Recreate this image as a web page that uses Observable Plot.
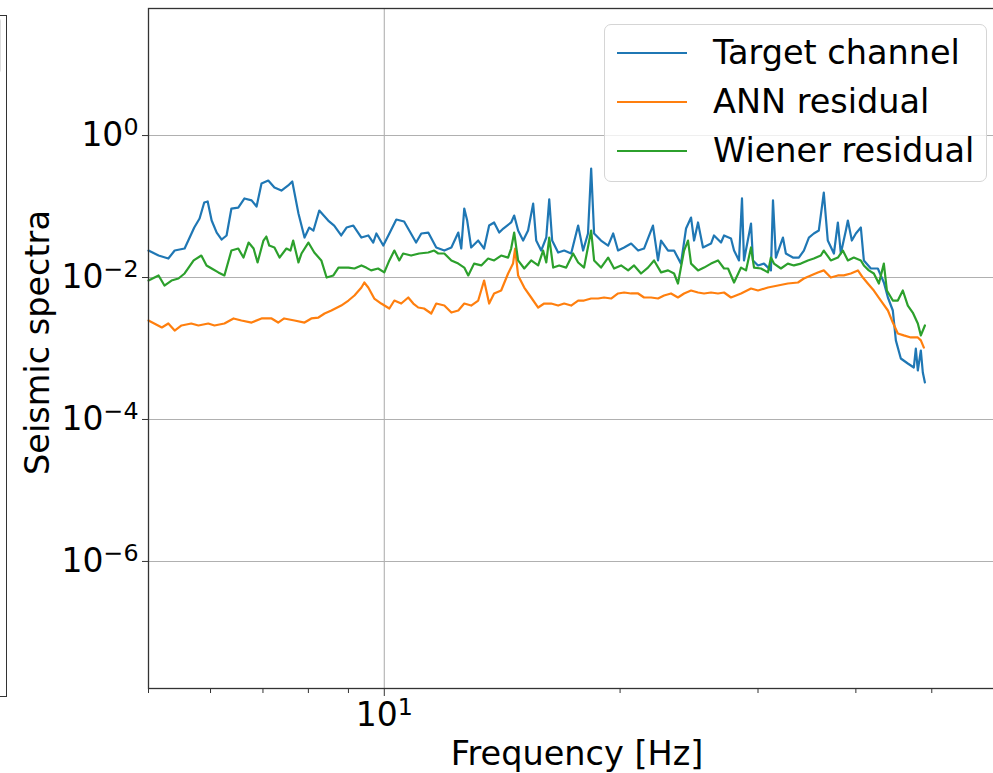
<!DOCTYPE html>
<html>
<head>
<meta charset="utf-8">
<script src="https://cdn.jsdelivr.net/npm/d3@7"></script>
<script src="https://cdn.jsdelivr.net/npm/@observablehq/plot@0.6"></script>
<style>
  html, body { margin: 0; padding: 0; background: #fff; overflow: hidden; }
  #wrap { position: relative; width: 993px; height: 773px; font-family: "DejaVu Sans", sans-serif; }
  #legend { position: absolute; left: 604px; top: 24px; width: 383px; height: 158px; box-sizing: border-box;
            border: 1.3px solid #d5d5d5; border-radius: 7px; background: rgba(255,255,255,0.8); }
  .row { position: absolute; left: 12px; height: 40px; display: flex; align-items: center; }
  .sw { width: 70px; height: 0; border-top: 2.4px solid; margin-right: 26px; }
  .lab { font-size: 33.5px; color: #000; white-space: nowrap; line-height: 40px; }
  #neighbor { position: absolute; left: -4px; top: 15px; width: 11px; height: 682px; box-sizing: border-box;
              border: 1.3px solid #333; }
  #neighborLeg { position: absolute; left: -6px; top: 18px; width: 7px; height: 55px; box-sizing: border-box;
              border: 1px solid #ddd; border-radius: 3px; }
</style>
</head>
<body>
<div id="wrap">
  <div id="neighbor"></div>
  <div id="neighborLeg"></div>
  <div id="chart"></div>
  <div id="legend"></div>
</div>
<script>
// ---- data (frequency in Hz, spectral value) ----
const seriesNames = ["Target channel", "ANN residual", "Wiener residual"];
const seriesColors = ["#1f77b4", "#ff7f0e", "#2ca02c"];

const targetFreq = [5.00,5.15,5.30,5.40,5.56,5.72,5.81,5.89,5.95,6.02,6.11,6.20,6.29,6.38,6.51,6.63,6.77,6.87,6.97,7.11,7.24,7.39,7.54,7.63,7.77,7.91,8.02,8.12,8.26,8.48,8.63,8.81,8.95,9.13,9.35,9.54,9.68,9.77,9.97,10.15,10.36,10.60,10.98,11.15,11.38,11.65,11.93,12.18,12.43,12.54,12.65,12.76,12.91,13.18,13.41,13.61,13.81,14.02,14.19,14.52,14.65,14.82,15.04,15.26,15.49,15.63,15.86,16.10,16.24,16.38,16.67,16.97,17.32,17.68,17.94,18.20,18.37,18.53,18.91,19.31,19.60,19.88,20.24,20.66,21.09,21.46,22.03,22.36,22.56,23.03,23.44,23.92,24.28,24.64,24.86,25.15,25.52,26.13,26.36,26.91,27.15,27.71,27.96,28.37,28.62,28.79,29.39,29.56,30.00,30.53,31.16,31.35,31.62,32.28,32.56,33.24,33.83,34.33,34.84,35.35,35.87,36.40,36.83,37.50,37.94,38.27,38.84,39.07,39.53,40.00,40.59,40.95,41.80,42.67,43.43,43.95,44.59,44.99,45.65,46.60,47.43,47.71,47.99,48.42,48.70,49.00];
const targetVal = [0.0240,0.0204,0.0185,0.0240,0.0256,0.0506,0.0678,0.114,0.118,0.0635,0.0430,0.0343,0.0391,0.0937,0.0968,0.130,0.122,0.100,0.211,0.232,0.185,0.168,0.198,0.225,0.0797,0.0366,0.0506,0.0459,0.0879,0.0635,0.0540,0.0391,0.0506,0.0540,0.0366,0.0391,0.0311,0.0417,0.0282,0.0417,0.0656,0.0615,0.0311,0.0417,0.0430,0.0265,0.0240,0.0265,0.0430,0.0256,0.0937,0.0635,0.0265,0.0332,0.0256,0.0540,0.0596,0.0430,0.0490,0.0596,0.0747,0.0459,0.0332,0.0459,0.110,0.0332,0.0240,0.0366,0.126,0.0332,0.0225,0.0240,0.0218,0.0540,0.0240,0.0417,0.343,0.0417,0.0332,0.0282,0.0417,0.0240,0.0265,0.0301,0.0240,0.0256,0.0540,0.0174,0.0332,0.0240,0.0240,0.0157,0.0490,0.0700,0.0332,0.0596,0.0265,0.0301,0.0391,0.0311,0.0391,0.0354,0.0240,0.0174,0.130,0.0174,0.0577,0.0174,0.0148,0.0157,0.0126,0.122,0.0191,0.0366,0.0218,0.0191,0.0191,0.0240,0.0366,0.0417,0.0459,0.157,0.0332,0.0218,0.0596,0.0218,0.0459,0.0635,0.0332,0.0417,0.0506,0.0174,0.0134,0.0134,0.00851,0.00523,0.00343,0.00130,0.000723,0.000615,0.000540,0.00100,0.000490,0.000937,0.000459,0.000332];

const annFreq = [5.00,5.20,5.30,5.40,5.51,5.67,5.79,5.96,6.07,6.25,6.42,6.57,6.77,6.97,7.18,7.32,7.45,7.68,7.91,8.07,8.24,8.39,8.56,8.81,9.00,9.16,9.35,9.43,9.54,9.71,9.91,10.15,10.30,10.51,10.73,10.89,11.05,11.24,11.48,11.65,11.93,12.18,12.43,12.65,12.91,13.18,13.41,13.61,13.81,14.10,14.39,14.60,14.69,14.82,15.09,15.40,15.72,16.00,16.33,16.67,16.97,17.32,17.68,17.99,18.37,18.75,19.08,19.48,19.88,20.24,20.66,21.09,21.46,21.91,22.36,22.76,23.23,23.71,24.14,24.64,25.15,25.60,26.13,26.67,27.15,27.71,28.54,29.39,30.00,30.89,31.81,32.75,33.74,34.33,35.04,35.77,36.40,37.16,37.94,38.61,39.41,40.24,40.83,41.43,42.17,43.05,43.95,44.59,45.25,46.05,47.01,47.99,48.42,48.85];
const annVal = [0.00248,0.00198,0.00225,0.00179,0.00211,0.00225,0.00211,0.00225,0.00211,0.00225,0.00265,0.00248,0.00232,0.00265,0.00265,0.00232,0.00265,0.00248,0.00232,0.00265,0.00273,0.00311,0.00343,0.00403,0.00474,0.00558,0.00723,0.00851,0.00723,0.00506,0.00430,0.00366,0.00474,0.00430,0.00523,0.00430,0.00378,0.00366,0.00311,0.00430,0.00403,0.00321,0.00343,0.00430,0.00403,0.00474,0.00907,0.00430,0.00596,0.00656,0.0114,0.0157,0.0256,0.0107,0.00723,0.00523,0.00378,0.00430,0.00430,0.00403,0.00430,0.00403,0.00474,0.00474,0.00506,0.00506,0.00523,0.00506,0.00596,0.00615,0.00596,0.00596,0.00523,0.00523,0.00506,0.00558,0.00596,0.00523,0.00596,0.00656,0.00615,0.00596,0.00615,0.00596,0.00615,0.00523,0.00596,0.00700,0.00656,0.00723,0.00771,0.00823,0.00851,0.00968,0.0107,0.0118,0.0126,0.0100,0.0107,0.0107,0.0114,0.0126,0.0100,0.00823,0.00656,0.00474,0.00343,0.00232,0.00163,0.00153,0.00143,0.00143,0.00130,0.00103];

const wienerFreq = [5.00,5.15,5.24,5.35,5.46,5.56,5.71,5.84,5.93,6.02,6.14,6.25,6.38,6.51,6.61,6.71,6.81,6.89,7.01,7.07,7.13,7.24,7.35,7.50,7.59,7.65,7.77,7.84,8.00,8.14,8.31,8.44,8.61,8.74,9.00,9.16,9.35,9.48,9.62,9.82,10.00,10.15,10.30,10.45,10.57,10.82,11.08,11.38,11.58,11.72,11.93,12.18,12.43,12.65,12.80,13.02,13.30,13.57,13.81,14.10,14.39,14.52,14.65,14.82,15.09,15.40,15.72,15.95,16.10,16.24,16.43,16.72,17.07,17.42,17.68,17.99,18.37,18.53,18.91,19.31,19.65,20.06,20.48,20.84,21.27,21.71,22.10,22.56,23.03,23.44,23.71,24.14,24.42,24.64,25.15,25.60,26.13,26.67,27.15,27.47,27.96,28.54,28.96,29.39,29.65,30.27,30.89,31.16,31.44,32.09,32.75,33.34,34.03,34.74,35.35,36.08,36.40,37.16,37.94,38.50,39.07,39.76,40.59,40.95,41.55,42.17,42.80,43.43,43.82,44.59,45.25,45.92,46.60,47.28,47.99,48.42,49.00];
const wienerVal = [0.00907,0.0107,0.00771,0.00907,0.00968,0.0114,0.0174,0.0204,0.0148,0.0134,0.0118,0.0107,0.0240,0.0256,0.0191,0.0311,0.0256,0.0163,0.0332,0.0378,0.0282,0.0265,0.0191,0.0256,0.0240,0.0332,0.0163,0.0218,0.0311,0.0225,0.0174,0.0100,0.0107,0.0138,0.0138,0.0134,0.0148,0.0138,0.0126,0.0134,0.0118,0.0174,0.0240,0.0174,0.0218,0.0204,0.0218,0.0225,0.0240,0.0218,0.0218,0.0174,0.0157,0.0138,0.0107,0.0157,0.0148,0.0185,0.0174,0.0204,0.0191,0.0256,0.0430,0.0174,0.0134,0.0174,0.0148,0.0240,0.0163,0.0366,0.0138,0.0148,0.0138,0.0218,0.0163,0.0138,0.0459,0.0174,0.0138,0.0191,0.0134,0.0148,0.0126,0.0148,0.0114,0.0138,0.0174,0.0118,0.0126,0.0114,0.00823,0.0240,0.0332,0.0157,0.0126,0.0138,0.0157,0.0174,0.0134,0.0134,0.00851,0.0138,0.0126,0.0265,0.0138,0.0134,0.0118,0.0191,0.0157,0.0134,0.0157,0.0148,0.0157,0.0174,0.0185,0.0204,0.0240,0.0174,0.0191,0.0240,0.0174,0.0191,0.0174,0.0148,0.0126,0.0114,0.00823,0.0157,0.00656,0.00474,0.00474,0.00656,0.00403,0.00321,0.00225,0.00153,0.00211];

const yTicks = [1e0, 1e-2, 1e-4, 1e-6];
const xMajorTicks = [10];
const xMinorTicks = [5, 6, 7, 8, 9, 20, 30, 40, 50, 60];
const xLabel = "Frequency [Hz]";
const yLabel = "Seismic spectra";

// ---- build table ----
const rows = [];
[[targetFreq, targetVal], [annFreq, annVal], [wienerFreq, wienerVal]].forEach(([f, v], i) => {
  f.forEach((fr, j) => rows.push({series: seriesNames[i], f: fr, v: v[j]}));
});

const supFmt = d => "10^" + String(Math.round(Math.log10(d))).replace("-", "\u2212");

const chart = Plot.plot({
  width: 993,
  height: 773,
  marginLeft: 148,
  marginRight: -12,
  marginTop: 8,
  marginBottom: 85,
  style: {fontFamily: "DejaVu Sans", fontSize: "33px", color: "#000", background: "transparent", overflow: "hidden"},
  x: {type: "log", domain: [5, 62.1]},
  y: {type: "log", domain: [Math.pow(10, -7.79), Math.pow(10, 1.79)]},
  color: {domain: seriesNames, range: seriesColors},
  marks: [
    Plot.gridY(yTicks, {stroke: "#b0b0b0", strokeOpacity: 1, strokeWidth: 1.1}),
    Plot.gridX(xMajorTicks, {stroke: "#b0b0b0", strokeOpacity: 1, strokeWidth: 1.1}),
    Plot.line(rows, {x: "f", y: "v", z: "series", stroke: "series", strokeWidth: 2.2, strokeLinejoin: "round"}),
    Plot.frame({stroke: "#333", strokeWidth: 1.3}),
    Plot.axisY(yTicks, {anchor: "left", tickSize: 6, tickPadding: 4, tickFormat: supFmt, label: null, stroke: "#333"}),
    Plot.axisX(xMajorTicks, {anchor: "bottom", tickSize: 8, tickPadding: 6, tickFormat: supFmt, label: null, stroke: "#333"}),
    Plot.axisX(xMinorTicks, {anchor: "bottom", tickSize: 5, tickFormat: () => "", label: null, stroke: "#333"}),
    Plot.text([xLabel], {frameAnchor: "bottom", textAnchor: "middle", text: d => d, dy: 66, lineAnchor: "middle", fontSize: 33.5}),
    Plot.text([yLabel], {frameAnchor: "left", textAnchor: "middle", text: d => d, rotate: -90, dx: -110, dy: -6, lineAnchor: "middle", fontSize: 33.5})
  ]
});
document.getElementById("chart").appendChild(chart);

// superscripts for "10^n" tick labels
d3.select(chart).selectAll("text").each(function() {
  const t = this.textContent;
  if (t.startsWith("10^")) {
    const exp = t.slice(3);
    const sel = d3.select(this);
    sel.text(null);
    sel.append("tspan").text("10");
    sel.append("tspan").attr("dy", "-0.45em").attr("font-size", "0.72em").text(exp);
  }
});

// legend
const leg = document.getElementById("legend");
seriesNames.forEach((name, i) => {
  const r = document.createElement("div");
  r.className = "row";
  r.style.top = (8 + i * 49) + "px";
  r.innerHTML = `<div class="sw" style="border-color:${seriesColors[i]}"></div><div class="lab">${name}</div>`;
  leg.appendChild(r);
});
</script>
</body>
</html>
